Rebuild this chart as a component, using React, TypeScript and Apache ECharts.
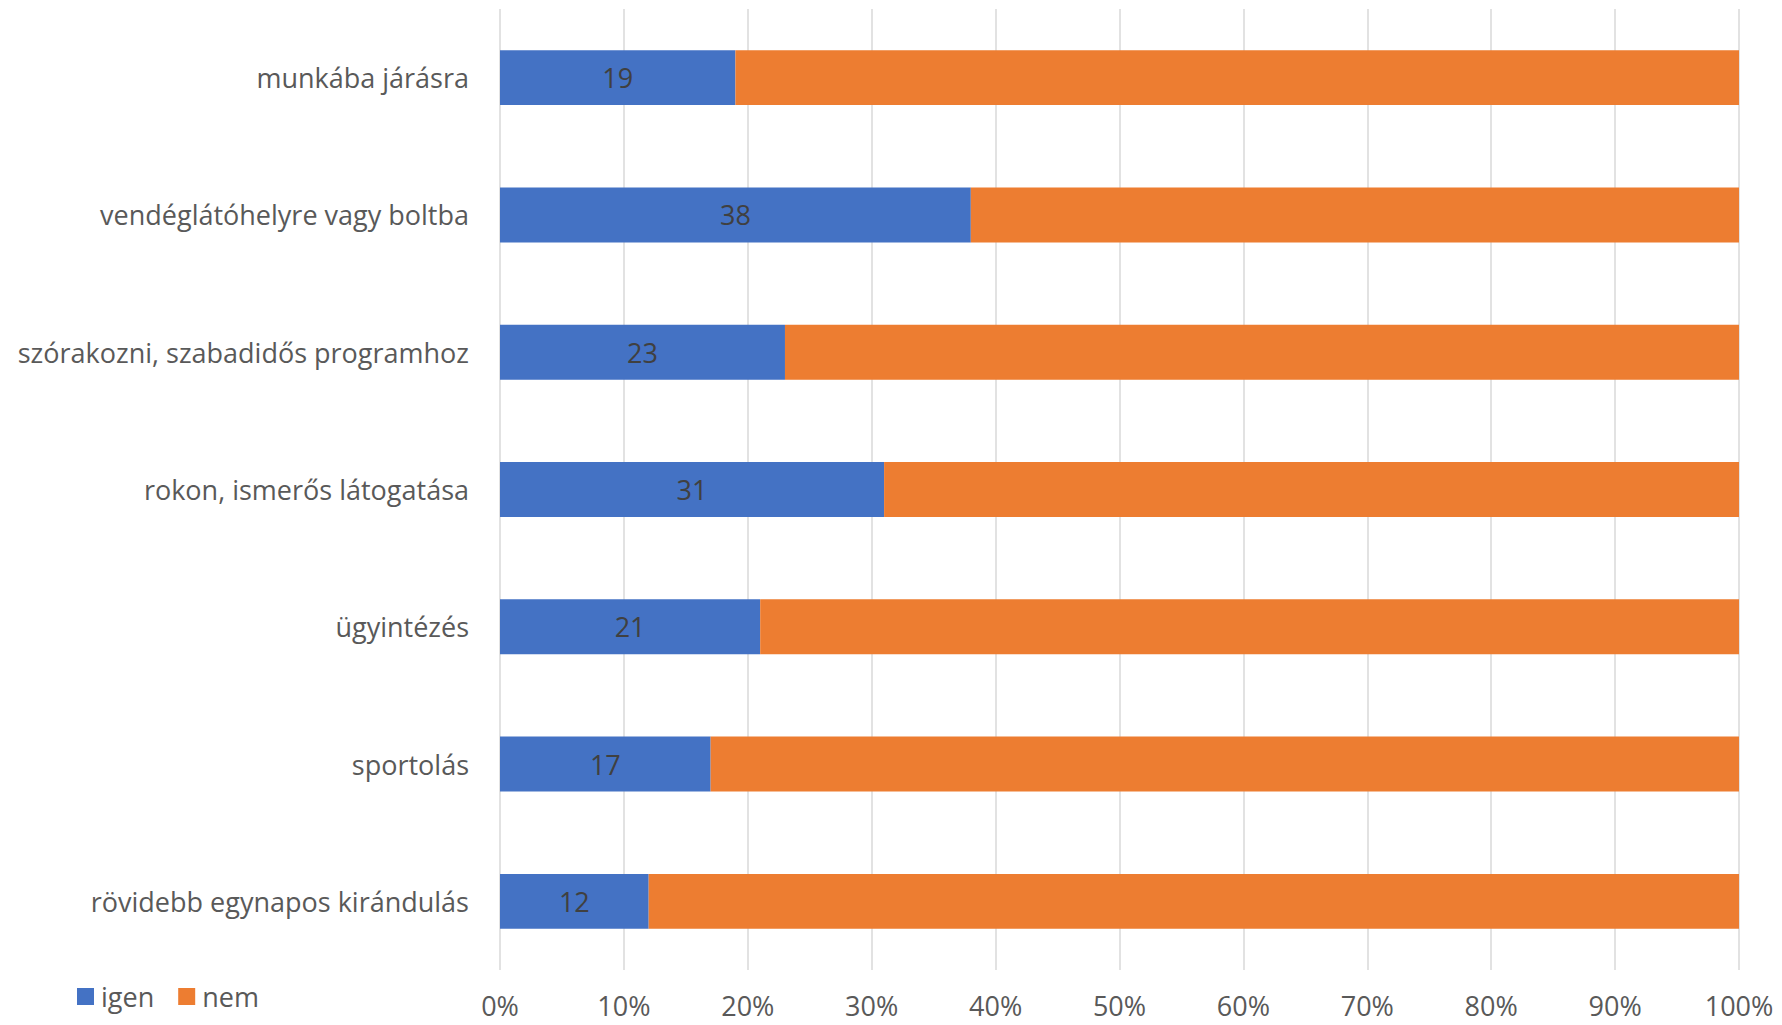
import React, { useEffect, useRef } from "react";
import * as echarts from "echarts";

const categories = [
  "munkába járásra",
  "vendéglátóhelyre vagy boltba",
  "szórakozni, szabadidős programhoz",
  "rokon, ismerős látogatása",
  "ügyintézés",
  "sportolás",
  "rövidebb egynapos kirándulás",
];
const igen = [19, 38, 23, 31, 21, 17, 12];
const nem = [81, 62, 77, 69, 79, 83, 88];
const xTicks = [0, 10, 20, 30, 40, 50, 60, 70, 80, 90, 100];

const FONT = "'Open Sans', 'Liberation Sans', sans-serif";

export default function App() {
  const ref = useRef<HTMLDivElement>(null);
  useEffect(() => {
    const chart = echarts.init(ref.current!, null, { renderer: "svg" });
    chart.setOption({
      animation: false,
      textStyle: { fontFamily: FONT },
      grid: { left: 500, right: 43, top: 9, bottom: 55, containLabel: false },
      legend: {
        left: 72,
        top: 978,
        itemWidth: 17,
        itemHeight: 17,
        itemGap: 24,
        icon: "rect",
        textStyle: { fontSize: 27, color: "#595959", fontFamily: FONT, padding: [0, 0, 0, 2] },
        data: ["igen", "nem"],
      },
      xAxis: {
        type: "value",
        min: xTicks[0],
        max: xTicks[xTicks.length - 1],
        interval: 10,
        axisLine: { show: false },
        axisTick: { show: false },
        splitLine: { show: true, lineStyle: { color: "#D9D9D9", width: 1.5 } },
        axisLabel: {
          formatter: (v: number) => `${v}%`,
          fontSize: 27,
          color: "#595959",
          margin: 22,
          fontFamily: FONT,
        },
      },
      yAxis: {
        type: "category",
        data: categories,
        inverse: true,
        axisLine: { show: false },
        axisTick: { show: false },
        axisLabel: { fontSize: 27, color: "#595959", margin: 31, fontFamily: FONT },
      },
      series: [
        {
          name: "igen",
          type: "bar",
          stack: "total",
          data: igen,
          barCategoryGap: "60%",
          itemStyle: { color: "#4472C4" },
          label: {
            show: true,
            position: "inside",
            fontSize: 27,
            color: "#404040",
            fontFamily: FONT,
          },
        },
        {
          name: "nem",
          type: "bar",
          stack: "total",
          data: nem,
          barCategoryGap: "60%",
          itemStyle: { color: "#ED7D31" },
        },
      ],
    });
    return () => chart.dispose();
  }, []);
  return <div ref={ref} style={{ width: 1782, height: 1025, margin: -8 }} />;
}
